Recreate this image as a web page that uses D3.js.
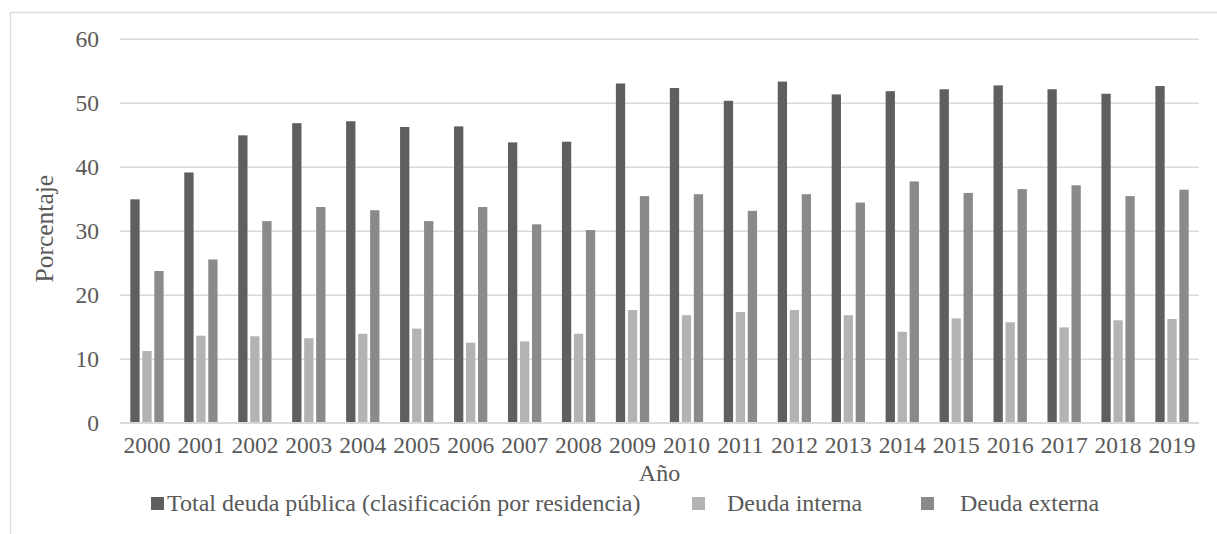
<!DOCTYPE html>
<html>
<head>
<meta charset="utf-8">
<script src="https://cdn.jsdelivr.net/npm/d3@7"></script>
<style>
  html, body { margin: 0; padding: 0; background: #fff; }
  svg { display: block; }
  text { font-family: "Liberation Serif", "Times New Roman", serif; fill: #595959; }
</style>
</head>
<body>
<svg id="chart" width="1217" height="534"></svg>
<script>
// Deuda pública como porcentaje, 2000–2019
const years = ["2000","2001","2002","2003","2004","2005","2006","2007","2008","2009",
               "2010","2011","2012","2013","2014","2015","2016","2017","2018","2019"];
const total   = [34.9, 39.1, 44.9, 46.8, 47.1, 46.2, 46.3, 43.8, 43.9, 53.0,
                 52.3, 50.3, 53.3, 51.3, 51.8, 52.1, 52.7, 52.1, 51.4, 52.6];
const interna = [11.2, 13.6, 13.5, 13.2, 13.9, 14.7, 12.5, 12.7, 13.9, 17.6,
                 16.8, 17.3, 17.6, 16.8, 14.2, 16.3, 15.7, 14.9, 16.0, 16.2];
const externa = [23.7, 25.5, 31.5, 33.7, 33.2, 31.5, 33.7, 31.0, 30.1, 35.4,
                 35.7, 33.1, 35.7, 34.4, 37.7, 35.9, 36.5, 37.1, 35.4, 36.4];
const seriesNames = ["Total deuda pública (clasificación por residencia)", "Deuda interna", "Deuda externa"];
const yTicks = [0, 10, 20, 30, 40, 50, 60];

const series = [
  { name: seriesNames[0], values: total,   color: "#5f5f5f" },
  { name: seriesNames[1], values: interna, color: "#b3b3b3" },
  { name: seriesNames[2], values: externa, color: "#8a8a8a" }
];

const svg = d3.select("#chart");
const TICK_FONT = 23.5;
const TITLE_FONT = 24;

// Outer chart frame
svg.append("rect")
  .attr("x", 10.5).attr("y", 12.5)
  .attr("width", 1215).attr("height", 540)
  .attr("fill", "none").attr("stroke", "#d9d9d9").attr("stroke-width", 1.3);

const plot = { left: 120, right: 1199, top: 38.7, bottom: 422.7 };

const y = d3.scaleLinear().domain([0, 60]).range([plot.bottom, plot.top]);
const x0 = d3.scaleBand().domain(years).range([plot.left, plot.right]).padding(0);
const x1 = d3.scaleBand().domain(series.map(s => s.name))
  .range([0, x0.bandwidth()]).paddingInner(0.225).paddingOuter(0.86);

// Horizontal gridlines and value labels
const yAxis = d3.axisLeft(y).tickValues(yTicks).tickSize(-(plot.right - plot.left)).tickPadding(20);
const gy = svg.append("g").attr("transform", `translate(${plot.left},0)`).call(yAxis);
gy.select(".domain").remove();
gy.selectAll(".tick line").attr("stroke", "#d9d9d9").attr("stroke-width", 1.5);
gy.selectAll(".tick text")
  .attr("x", -21)
  .style("font-size", TICK_FONT + "px")
  .style("font-family", "'Liberation Serif', serif")
  .attr("fill", "#595959");

// Bars
const groups = svg.append("g").selectAll("g")
  .data(series).join("g")
  .attr("fill", d => d.color);

groups.selectAll("rect")
  .data(s => s.values.map((v, i) => ({ year: years[i], value: v, name: s.name })))
  .join("rect")
  .attr("x", d => x0(d.year) + x1(d.name))
  .attr("width", x1.bandwidth())
  .attr("y", d => y(d.value))
  .attr("height", d => y(0) - y(d.value));

// Category axis
const xAxis = d3.axisBottom(x0).tickSize(0).tickPadding(14);
const gx = svg.append("g").attr("transform", `translate(0,${plot.bottom})`).call(xAxis);
gx.select(".domain").attr("stroke", "#d9d9d9").attr("stroke-width", 1.5)
  .attr("d", `M${plot.left},0H${plot.right}`);
gx.selectAll(".tick text")
  .style("font-size", TICK_FONT + "px")
  .style("font-family", "'Liberation Serif', serif")
  .attr("fill", "#595959");

// Axis titles
svg.append("text")
  .attr("x", (plot.left + plot.right) / 2).attr("y", 481)
  .attr("text-anchor", "middle")
  .style("font-size", TITLE_FONT + "px")
  .text("Año");

svg.append("text")
  .attr("transform", `translate(53,${(plot.top + plot.bottom) / 2 - 2}) rotate(-90)`)
  .attr("text-anchor", "middle")
  .style("font-size", "25.5px")
  .text("Porcentaje");

// Legend
const legendItems = [
  { s: series[0], box: 151, text: 167 },
  { s: series[1], box: 692, text: 727 },
  { s: series[2], box: 921, text: 960 }
];
const legend = svg.append("g");
legendItems.forEach(it => {
  legend.append("rect")
    .attr("x", it.box).attr("y", 497)
    .attr("width", 13).attr("height", 13)
    .attr("fill", it.s.color);
  legend.append("text")
    .attr("x", it.text).attr("y", 511)
    .style("font-size", TITLE_FONT + "px")
    .text(it.s.name);
});
</script>
</body>
</html>
